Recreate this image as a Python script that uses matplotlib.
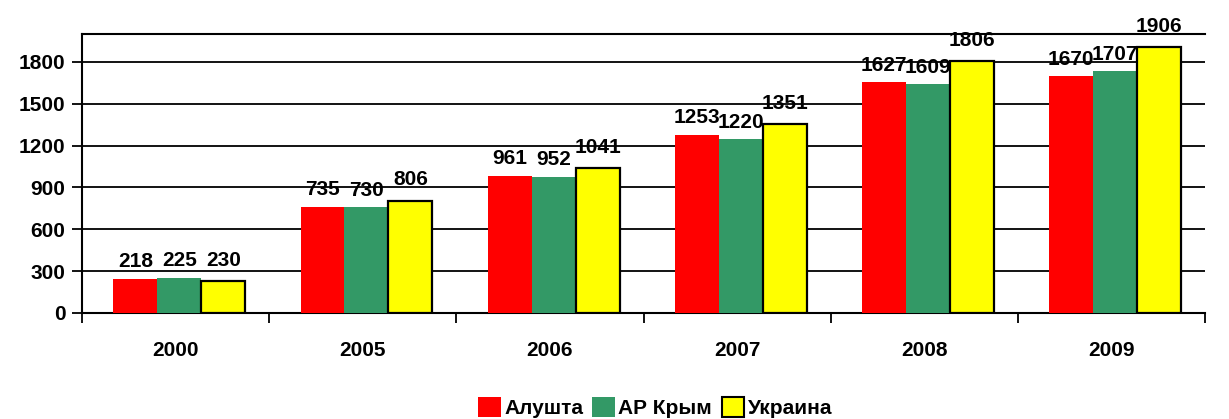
import numpy as np
import matplotlib.pyplot as plt
from matplotlib.patches import Patch

plt.rcParams['font.family'] = ['Liberation Sans', 'DejaVu Sans']
plt.rcParams['font.weight'] = 'bold'

years = ['2000', '2005', '2006', '2007', '2008', '2009']
series = ['Алушта', 'АР Крым', 'Украина']
# values printed on the chart
alushta = [218, 735, 961, 1253, 1627, 1670]
krym = [225, 730, 952, 1220, 1609, 1707]
ukraina = [230, 806, 1041, 1351, 1806, 1906]
# bar heights as drawn in the original (red/green bars are taller than their labels)
alushta_bar = [245, 760, 982, 1278, 1655, 1695]
krym_bar = [250, 760, 975, 1248, 1642, 1735]
ukraina_bar = ukraina

colors = ['#FF0000', '#339966', '#FFFF00']
FS = 15

fig = plt.figure(figsize=(12.29, 4.19), dpi=100)
ax = fig.add_axes([0.0667, 0.253, 0.9138, 0.666])

x = np.arange(len(years))
w = 0.235
offs = [-w + 0.02, 0.02, w + 0.02]
bars = [alushta_bar, krym_bar, ukraina_bar]
labels = [alushta, krym, ukraina]
for i in range(3):
    edge = 'black' if i == 2 else 'none'
    ax.bar(x + offs[i], bars[i], w, color=colors[i], edgecolor=edge,
           linewidth=1.6, zorder=3)
    for xi, v in zip(x + offs[i], labels[i]):
        ax.annotate(str(v), (xi, v), xytext=(0, 8), textcoords='offset points',
                    ha='center', va='bottom', fontsize=FS, fontweight='bold',
                    zorder=5)

ax.set_xlim(-0.5, len(years) - 0.5)
ax.set_ylim(0, 2000)
ax.set_yticks(range(0, 1801, 300))
ax.yaxis.grid(True, color='black', linewidth=1.3, zorder=0)
ax.set_axisbelow(True)

ax.set_xticks(x)
ax.set_xticklabels(years, fontsize=FS, fontweight='bold')
ax.set_xticks(np.arange(-0.5, len(years)), minor=True)
ax.tick_params(axis='x', which='major', length=0, pad=20)
ax.tick_params(axis='x', which='minor', length=7, width=1.3, direction='out')
ax.tick_params(axis='y', length=7, width=1.3, labelsize=FS, pad=5)
for t in ax.get_yticklabels():
    t.set_fontweight('bold')

ax.spines['right'].set_visible(False)
for s in ['left', 'bottom', 'top']:
    ax.spines[s].set_linewidth(1.5)

handles = [Patch(facecolor=colors[0], edgecolor='none'),
           Patch(facecolor=colors[1], edgecolor='none'),
           Patch(facecolor=colors[2], edgecolor='black', linewidth=1.5)]
fig.legend(handles, series, loc='center', bbox_to_anchor=(0.533, 0.028), ncol=3,
           frameon=False, handlelength=1.1, handleheight=1.1,
           handletextpad=0.15, columnspacing=0.45, prop={'weight': 'bold', 'size': FS})

fig.savefig('out.png', dpi=100)
